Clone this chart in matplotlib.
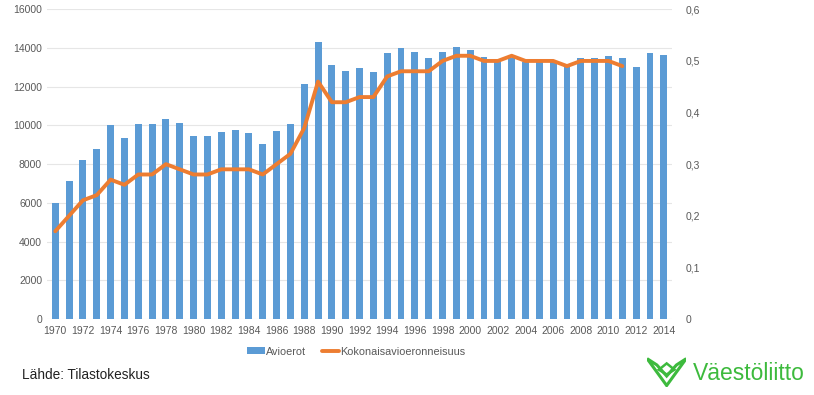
import numpy as np
import matplotlib
matplotlib.use("Agg")
import matplotlib.pyplot as plt
from matplotlib.patches import Polygon

plt.rcParams['font.family'] = ['Liberation Sans', 'DejaVu Sans']

years = list(range(1970, 2015))
avioerot = [6000, 7150, 8200, 8800, 10000, 9330, 10080, 10080, 10320, 10150,
            9430, 9450, 9650, 9750, 9620, 9050, 9720, 10100, 12120, 14330,
            13100, 12800, 12950, 12750, 13730, 13980, 13770, 13480, 13820, 14030,
            13900, 13550, 13350, 13480, 13260, 13300, 13300, 13080, 13470, 13500,
            13600, 13460, 13020, 13730, 13660]
kok_years = list(range(1970, 2012))
kokonais = [0.17, 0.20, 0.23, 0.24, 0.27, 0.26, 0.28, 0.28, 0.30, 0.29,
            0.28, 0.28, 0.29, 0.29, 0.29, 0.28, 0.30, 0.32, 0.37, 0.46,
            0.42, 0.42, 0.43, 0.43, 0.47, 0.48, 0.48, 0.48, 0.50, 0.51,
            0.51, 0.50, 0.50, 0.51, 0.50, 0.50, 0.50, 0.49, 0.50, 0.50,
            0.50, 0.49]
left_ticks = [0, 2000, 4000, 6000, 8000, 10000, 12000, 14000, 16000]
right_ticks = [0, 0.1, 0.2, 0.3, 0.4, 0.5, 0.6]
right_labels = ['0', '0,1', '0,2', '0,3', '0,4', '0,5', '0,6']

blue = '#5b9bd5'
orange = '#ed7d31'
grey = '#595959'

fig = plt.figure(figsize=(8.14, 3.95), dpi=100)
ax = fig.add_axes([0.0577, 0.1924, 0.768, 0.784])
ax.bar(years, avioerot, width=0.5, color=blue, label='Avioerot', zorder=2)
ax.set_ylim(0, 16000)
ax.set_xlim(1969.4, 2014.6)
ax.set_yticks(left_ticks)
ax.set_xticks(years[::2])
ax.tick_params(axis='both', length=0, labelsize=7.5, colors=grey)
ax.tick_params(axis='x', pad=5)
ax.grid(axis='y', color='#e6e6e6', linewidth=0.8, zorder=0)
for s in ax.spines.values():
    s.set_visible(False)

ax2 = ax.twinx()
ax2.plot(kok_years, kokonais, color=orange, linewidth=2.8, label='Kokonaisavioeronneisuus',
         solid_capstyle='round', solid_joinstyle='round')
ax2.set_ylim(0, 0.6)
ax2.set_yticks(right_ticks)
ax2.set_yticklabels(right_labels)
ax2.tick_params(axis='y', length=0, labelsize=7.5, colors=grey, pad=10)
for s in ax2.spines.values():
    s.set_visible(False)

h1, l1 = ax.get_legend_handles_labels()
h2, l2 = ax2.get_legend_handles_labels()
fig.legend(h1 + h2, l1 + l2, loc='center', bbox_to_anchor=(0.438, 0.11), ncol=2,
           frameon=False, fontsize=7.8, labelcolor=grey, handlelength=1.6,
           handleheight=0.6, columnspacing=1.5, handletextpad=0.1)

fig.text(0.027, 0.05, 'Lähde: Tilastokeskus', fontsize=9.8, color='#222222', va='center')

green = '#3dba3d'
fig.text(0.851, 0.055, 'Väestöliitto', fontsize=16.5, color=green, va='center')
# simple logo shape
icon = fig.add_axes([0.795, 0.02, 0.048, 0.08])
icon.set_xlim(0, 10)
icon.set_ylim(0, 10)
icon.axis('off')
icon.add_patch(Polygon([[0, 9], [5, 0.5], [10, 9], [7.5, 7], [5, 3.5], [2.5, 7]],
                       closed=True, fill=False, edgecolor=green, linewidth=2.2))
icon.add_patch(Polygon([[3, 5.5], [5, 4], [7, 5.5], [5, 7.5]], closed=True,
                       fill=False, edgecolor=green, linewidth=1.8))

fig.savefig('out.png', dpi=100)
